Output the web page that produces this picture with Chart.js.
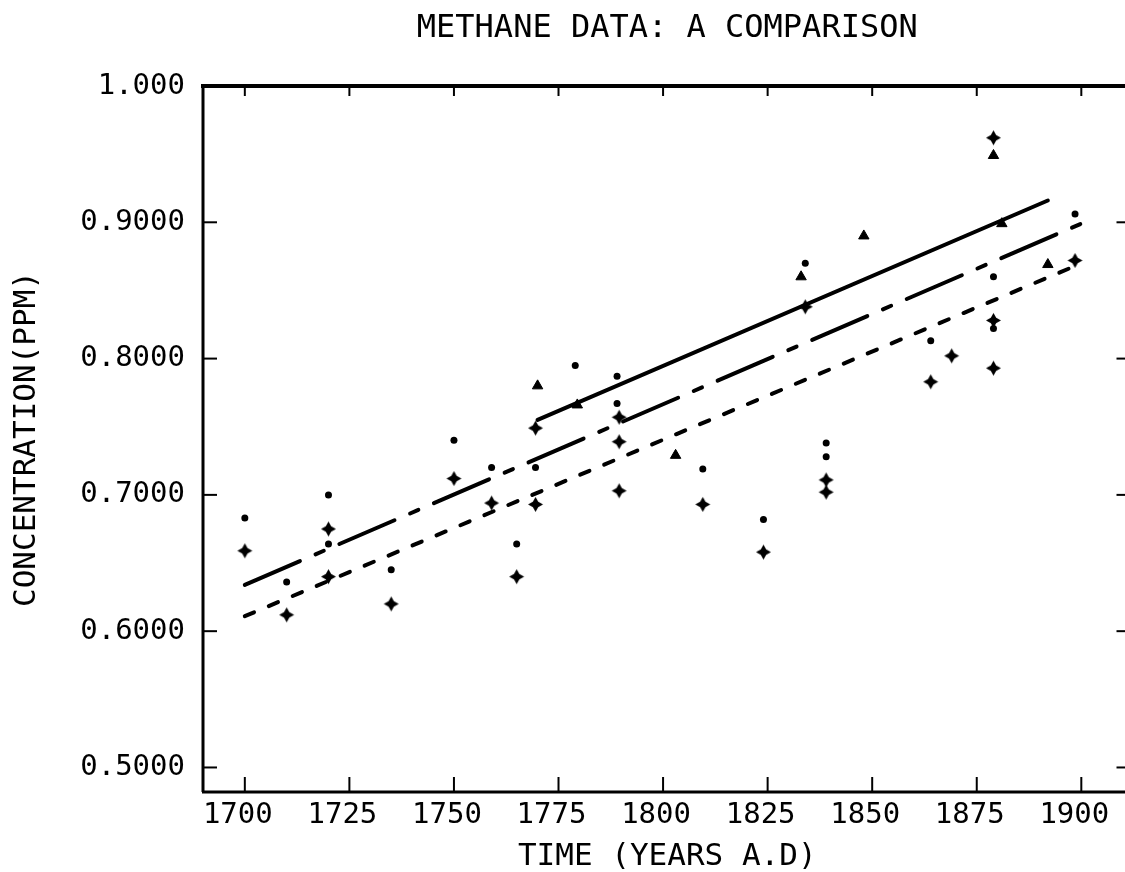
<!DOCTYPE html>
<html>
<head>
<meta charset="utf-8">
<title>Methane data: a comparison</title>
<script src="https://cdn.jsdelivr.net/npm/chart.js@4.4.1/dist/chart.umd.min.js"></script>
<style>
    html, body { margin: 0; padding: 0; background: #fff; overflow: hidden; }
    #chartBox { width: 1125px; height: 872px; overflow: hidden; }
    canvas { display: block; }
</style>
</head>
<body>
<div id="chartBox"><canvas id="methaneChart" width="1140" height="872"></canvas></div>
<script>
// Values (year A.D., concentration in ppm)

// triangle markers
const triangleYears  = [1770, 1779.5, 1803, 1833, 1848, 1879, 1881, 1892];
const triangleValues = [0.780, 0.766, 0.729, 0.860, 0.890, 0.949, 0.899, 0.869];

// dot markers
const dotYears  = [1700, 1710, 1720, 1720, 1735, 1750, 1759, 1765, 1769.5, 1779, 1789, 1789,
                   1809.5, 1824, 1834, 1839, 1839, 1864, 1879, 1879, 1898.5];
const dotValues = [0.683, 0.636, 0.700, 0.664, 0.645, 0.740, 0.720, 0.664, 0.720, 0.795, 0.787, 0.767,
                   0.719, 0.682, 0.870, 0.738, 0.728, 0.813, 0.860, 0.822, 0.906];

// cross (four-point star) markers
const starYears  = [1700, 1710, 1720, 1720, 1735, 1750, 1759, 1765, 1769.5, 1769.5, 1789.5, 1789.5,
                    1789.5, 1809.5, 1824, 1834, 1839, 1839, 1864, 1869, 1879, 1879, 1879, 1898.5];
const starValues = [0.659, 0.612, 0.675, 0.640, 0.620, 0.712, 0.694, 0.640, 0.749, 0.693, 0.757, 0.739,
                    0.703, 0.693, 0.658, 0.838, 0.711, 0.702, 0.783, 0.802, 0.962, 0.828, 0.793, 0.872];

// fitted trend lines (end points)
const solidFitYears      = [1770, 1892];
const solidFitValues     = [0.755, 0.916];
const longDashFitYears   = [1700, 1900];
const longDashFitValues  = [0.634, 0.899];
const shortDashFitYears  = [1700, 1897];
const shortDashFitValues = [0.611, 0.866];

// axis ticks
const yearTicks = [1700, 1725, 1750, 1775, 1800, 1825, 1850, 1875, 1900];
const concTicks = [0.5, 0.6, 0.7, 0.8, 0.9, 1.0];

const FONT = "'DejaVu Sans Mono', 'Liberation Mono', monospace";

function toPoints(xs, ys) {
    return xs.map((x, i) => ({ x: x, y: ys[i] }));
}

// plotter-style four point star for the crosses
function makeStar(r) {
    const size = Math.ceil(r * 2) + 2;
    const c = document.createElement('canvas');
    c.width = size;
    c.height = size;
    const g = c.getContext('2d');
    const m = size / 2;
    g.beginPath();
    for (let i = 0; i < 8; i++) {
        const ang = i * Math.PI / 4 - Math.PI / 2;
        const rr = i % 2 === 0 ? r : r * 0.5;
        const px = m + rr * Math.cos(ang);
        const py = m + rr * Math.sin(ang);
        if (i === 0) g.moveTo(px, py); else g.lineTo(px, py);
    }
    g.closePath();
    g.fillStyle = '#000';
    g.fill();
    return c;
}

// frame plus inward tick marks on all four sides
const frameTicks = {
    id: 'frameTicks',
    afterDatasetsDraw(chart) {
        const { ctx, chartArea: a, scales } = chart;
        const x = scales.x, y = scales.y;
        ctx.save();
        ctx.strokeStyle = '#000';
        ctx.lineCap = 'butt';
        const seg = (x1, y1, x2, y2) => {
            ctx.beginPath();
            ctx.moveTo(x1, y1);
            ctx.lineTo(x2, y2);
            ctx.stroke();
        };
        ctx.lineWidth = 3;
        seg(a.left, a.top, a.left, a.bottom);
        seg(a.left - 1, a.bottom, a.right, a.bottom);
        seg(a.right, a.top, a.right, a.bottom);
        ctx.lineWidth = 4;
        seg(a.left - 2, a.top, a.right, a.top);
        ctx.lineWidth = 2;
        yearTicks.forEach(v => {
            const px = x.getPixelForValue(v);
            seg(px, a.bottom, px, a.bottom - 15);
            seg(px, a.top, px, a.top + 10);
        });
        concTicks.forEach(v => {
            const py = y.getPixelForValue(v);
            seg(a.left, py, a.left + 14, py);
            seg(a.right, py, a.right - 15, py);
        });
        ctx.restore();
    }
};

const fitLine = (label, xs, ys, dash) => ({
    type: 'line',
    label: label,
    data: toPoints(xs, ys),
    borderColor: '#000',
    borderWidth: 4,
    borderDash: dash,
    borderCapStyle: 'round',
    pointRadius: 0,
    fill: false,
    tension: 0
});

new Chart(document.getElementById('methaneChart'), {
    type: 'scatter',
    data: {
        datasets: [
            fitLine('Triangle fit', solidFitYears, solidFitValues, []),
            fitLine('Dot fit', longDashFitYears, longDashFitValues, [60, 17, 9, 17]),
            fitLine('Cross fit', shortDashFitYears, shortDashFitValues, [10, 16]),
            {
                label: 'Triangles',
                data: toPoints(triangleYears, triangleValues),
                pointStyle: 'triangle',
                pointRadius: 6,
                backgroundColor: '#000',
                borderColor: '#000',
                borderWidth: 1
            },
            {
                label: 'Dots',
                data: toPoints(dotYears, dotValues),
                pointStyle: 'circle',
                pointRadius: 3.5,
                backgroundColor: '#000',
                borderColor: '#000',
                borderWidth: 0
            },
            {
                label: 'Crosses',
                data: toPoints(starYears, starValues),
                pointStyle: makeStar(7.5),
                pointRadius: 7.5,
                backgroundColor: '#000',
                borderColor: '#000'
            }
        ]
    },
    options: {
        responsive: false,
        animation: false,
        devicePixelRatio: 1,
        layout: { padding: { left: 0, right: 6, top: 0, bottom: 0 } },
        scales: {
            x: {
                type: 'linear',
                min: 1690,
                max: 1912,
                afterFit: s => { s.height = 80; },
                grid: { display: false, drawTicks: false },
                border: { display: false },
                ticks: {
                    stepSize: 25,
                    includeBounds: false,
                    autoSkip: false,
                    maxRotation: 0,
                    padding: 6,
                    labelOffset: -7,
                    color: '#000',
                    font: { family: FONT, size: 29 },
                    callback: v => String(v)
                },
                title: {
                    display: true,
                    text: 'TIME (YEARS A.D)',
                    color: '#000',
                    font: { family: FONT, size: 31, lineHeight: 1.0 },
                    padding: { top: 0, bottom: 0 }
                }
            },
            y: {
                type: 'linear',
                min: 0.482,
                max: 1.0,
                afterFit: s => { s.width = 203; },
                grid: { display: false, drawTicks: false },
                border: { display: false },
                ticks: {
                    stepSize: 0.1,
                    includeBounds: false,
                    padding: 18,
                    color: '#000',
                    font: { family: FONT, size: 29 },
                    callback: v => (v === 1 ? '1.000' : v.toFixed(4))
                },
                title: {
                    display: true,
                    text: 'CONCENTRATION(PPM)',
                    color: '#000',
                    font: { family: FONT, size: 31 },
                    padding: { top: 8, bottom: 0 }
                }
            }
        },
        plugins: {
            legend: { display: false },
            tooltip: { enabled: false },
            title: {
                display: true,
                text: 'METHANE DATA: A COMPARISON',
                color: '#000',
                fullSize: false,
                font: { family: FONT, size: 32, weight: 'normal' },
                padding: { top: 9, bottom: 38.6 }
            }
        }
    },
    plugins: [frameTicks]
});
</script>
</body>
</html>
